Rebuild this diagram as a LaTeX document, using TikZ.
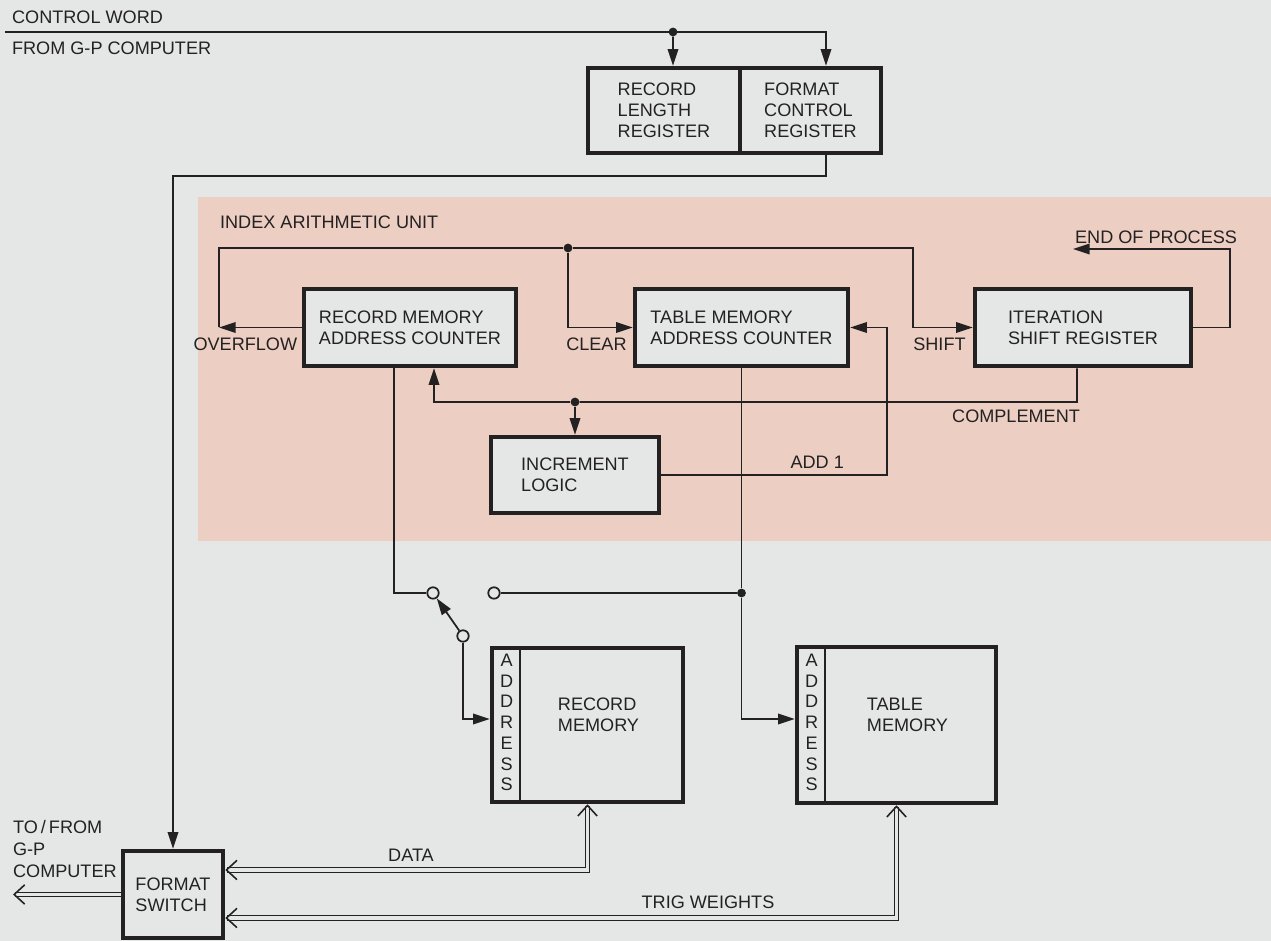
\documentclass[tikz,border=0pt]{standalone}
\usepackage{fontspec}
\setmainfont{Liberation Sans}
\usetikzlibrary{arrows.meta,positioning}
\definecolor{paper}{RGB}{229,231,230}
\definecolor{iaupink}{RGB}{236,206,194}
\definecolor{ink}{RGB}{35,33,33}
\tikzset{vtip/.tip={Straight Barb[length=6pt,width=11pt,line width=0.9pt]}}
\begin{document}
\begin{tikzpicture}[
  x=1cm,y=1cm,
  font=\fontsize{10.3}{11.8}\selectfont,
  unit/.style={draw=ink, line width=2.6pt, fill=paper, align=left, inner sep=2pt, text=ink},
  lbl/.style={text=ink, inner sep=1pt, align=left},
  wire/.style={draw=ink, line width=1pt},
  arr/.style={wire, -{Triangle[length=9.5pt,width=6pt]}},
  bus/.style={draw=ink, line width=0.8pt, double=paper, double distance=1.8pt},
  junction/.style={circle, fill=ink, inner sep=0pt, minimum size=5pt},
  contact/.style={circle, draw=ink, line width=1pt, fill=paper, inner sep=0pt, minimum size=6.5pt}
]

% Canvas
\path[use as bounding box, fill=paper] (0,0) rectangle (25.42,18.82);
\fill[iaupink] (3.96,8.00) rectangle (25.42,14.88);

% Control word input
\node[lbl, anchor=west] (cwlbl) at (0.2,18.48) {CONTROL WORD};
\node[lbl, anchor=west] (cwsrc) at (0.2,17.86) {FROM G-P COMPUTER};

\node[unit, minimum width=3.04cm, minimum height=1.70cm] (rlr) at (13.28,16.61)
  {RECORD\\LENGTH\\REGISTER};
\node[unit, minimum width=2.82cm, minimum height=1.70cm, right=-2.6pt of rlr] (fcr)
  {FORMAT\\CONTROL\\REGISTER};

\coordinate (cwin) at (0.10,18.18);
\node[junction] (cwdot) at (13.46,18.18) {};
\draw[arr] (cwin) -| ([xshift=0.31cm]fcr.north);
\draw[arr] (cwdot) -- ([xshift=0.18cm]rlr.north);

% Format switch
\node[unit, minimum width=2.0cm, minimum height=1.74cm] (fsw) at (3.46,0.93) {FORMAT\\SWITCH};
\coordinate (fmtc) at (3.46,15.30);
\draw[arr] ([xshift=0.31cm]fcr.south) |- (fmtc) -- (fsw.north);

% Index arithmetic unit
\node[lbl, anchor=west] (iaulbl) at (4.36,14.38) {INDEX ARITHMETIC UNIT};

\node[unit, minimum width=4.24cm, minimum height=1.54cm] (rmac) at (8.20,12.27)
  {RECORD MEMORY\\ADDRESS COUNTER};
\node[unit, minimum width=4.26cm, minimum height=1.54cm] (tmac) at (14.83,12.27)
  {TABLE MEMORY\\ADDRESS COUNTER};
\node[unit, minimum width=4.32cm, minimum height=1.54cm] (isr) at (21.66,12.27)
  {ITERATION\\SHIFT REGISTER};
\node[unit, minimum width=3.36cm, minimum height=1.52cm] (inc) at (11.50,9.32)
  {INCREMENT\\LOGIC};

% Overflow, clear and shift
\coordinate (ovf) at (4.38,12.27);
\node[junction] (busdot) at (11.36,13.86) {};
\coordinate (shiftc) at (18.26,12.27);
\draw[arr] (rmac.west) -- (ovf);
\draw[wire] (ovf) |- (busdot);
\draw[arr] (busdot) -| (shiftc) -- (isr.west);
\draw[arr] (busdot) |- (tmac.west);

\node[lbl, anchor=north east] (ovflbl) at ([xshift=-0.05cm,yshift=-0.17cm]rmac.west) {OVERFLOW};
\node[lbl, anchor=north east] (clrlbl) at ([xshift=-0.08cm,yshift=-0.17cm]tmac.west) {CLEAR};
\node[lbl, anchor=north east] (shflbl) at ([xshift=-0.10cm,yshift=-0.17cm]isr.west) {SHIFT};

% End of process
\coordinate (eopc) at (24.60,13.84);
\coordinate (eoptip) at (21.46,13.84);
\draw[arr] (isr.east) -| (eopc) -- (eoptip);
\node[lbl, anchor=south west] (eoplbl) at ([yshift=0.06cm]eoptip) {END OF PROCESS};

% Complement
\node[junction] (incdot) at (11.50,10.78) {};
\coordinate (compc) at (21.54,10.78);
\draw[wire] ([xshift=-0.12cm]isr.south) -- (compc) -- (incdot);
\draw[arr] (incdot) -| ([xshift=0.48cm]rmac.south);
\draw[arr] (incdot) -- (inc.north);
\node[lbl, anchor=north east] (complbl) at ([xshift=0.1cm,yshift=-0.12cm]compc) {COMPLEMENT};

% Add 1
\coordinate (addc) at (17.74,12.27);
\draw[arr] (inc.east) -| (addc) -- (tmac.east);
\node[lbl, anchor=south east] (addlbl) at (16.92,9.40) {ADD 1};

% Memories
\node[unit, minimum width=3.82cm, minimum height=3.08cm] (rmem) at (11.75,4.32) {};
\node[unit, minimum width=3.98cm, minimum height=3.12cm] (tmem) at (17.93,4.32) {};
\draw[wire] ([xshift=0.6cm,yshift=-1.3pt]rmem.north west) -- ([xshift=0.6cm,yshift=1.3pt]rmem.south west);
\draw[wire] ([xshift=0.6cm,yshift=-1.3pt]tmem.north west) -- ([xshift=0.6cm,yshift=1.3pt]tmem.south west);
\node[lbl, align=center] (raddr) at ([xshift=0.34cm,yshift=0.05cm]rmem.west) {A\\D\\D\\R\\E\\S\\S};
\node[lbl, align=center] (taddr) at ([xshift=0.34cm,yshift=0.05cm]tmem.west) {A\\D\\D\\R\\E\\S\\S};
\node[lbl] (rmemlbl) at ([xshift=0.22cm,yshift=0.2cm]rmem.center) {RECORD\\MEMORY};
\node[lbl] (tmemlbl) at ([xshift=0.22cm,yshift=0.2cm]tmem.center) {TABLE\\MEMORY};

% Address select switch
\node[contact] (swa) at (8.66,6.96) {};
\node[contact] (swb) at (9.88,6.96) {};
\node[contact] (swp) at (9.26,6.10) {};
\node[junction] (tdot) at (tmac.south |- swb) {};
\draw[wire] ([xshift=-0.32cm]rmac.south) |- (swa);
\draw[arr] (swp) -- (swa);
\draw[arr] (swp) |- ([yshift=0.12cm]rmem.west);
\draw[wire] (tmac.south) -- (tdot);
\draw[wire] (swb) -- (tdot);
\draw[arr] (tdot) |- ([yshift=0.12cm]tmem.west);

% Data paths
\draw[bus, {vtip}-{vtip}] ([yshift=0.49cm]fsw.east) -| (rmem.south);
\node[lbl] (datalbl) at (8.22,1.72) {DATA};
\draw[bus, {vtip}-{vtip}] ([yshift=-0.47cm]fsw.east) -| (tmem.south);
\node[lbl] (triglbl) at (14.16,0.78) {TRIG WEIGHTS};

\coordinate (gpout) at (0.26,0.93);
\draw[bus, -{vtip}] (fsw.west) -- (gpout);
\node[lbl, anchor=north west, font=\fontsize{10.3}{12.5}\selectfont] (gplbl) at (0.22,2.45)
  {TO\,/\,FROM\\G-P\\COMPUTER};

\end{tikzpicture}
\end{document}
